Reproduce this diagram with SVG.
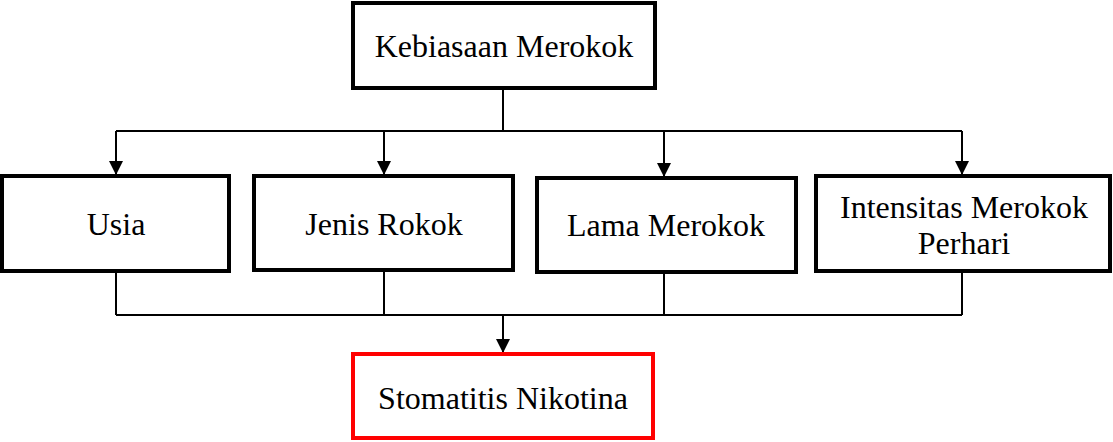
<svg xmlns="http://www.w3.org/2000/svg" width="1113" height="442" viewBox="0 0 1113 442">
<defs>
<marker id="ah" markerUnits="userSpaceOnUse" markerWidth="14" markerHeight="15" refX="14" refY="7" orient="auto" viewBox="0 0 14 14">
<path d="M0,0 L14,7 L0,14 Z" fill="#000"/>
</marker>
<style>
.box{fill:#fff;stroke:#000;stroke-width:4}
.red{fill:#fff;stroke:#ff0000;stroke-width:4}
.t{font-family:"Liberation Serif","Times New Roman",serif;font-size:32px;fill:#000;text-anchor:middle}
.c{fill:none;stroke:#000;stroke-width:2}
</style>
</defs>
<rect width="1113" height="442" fill="#fff"/>
<g id="connectors">
<path class="c" d="M503,88 V131 M116,131 H962"/>
<path class="c" d="M116,131 V175" marker-end="url(#ah)"/>
<path class="c" d="M384,131 V175" marker-end="url(#ah)"/>
<path class="c" d="M664,131 V177" marker-end="url(#ah)"/>
<path class="c" d="M962,131 V175" marker-end="url(#ah)"/>
<path class="c" d="M116,271 V315 M384,270 V315 M664,272 V315 M962,271 V315 M116,315 H962"/>
<path class="c" d="M503,315 V353" marker-end="url(#ah)"/>
</g>
<g id="kebiasaan">
<rect class="box" x="353" y="3" width="302" height="85"/>
<text class="t" x="504" y="57">Kebiasaan Merokok</text>
</g>
<g id="usia">
<rect class="box" x="2" y="176" width="227" height="95"/>
<text class="t" x="116" y="235">Usia</text>
</g>
<g id="jenis">
<rect class="box" x="254" y="176" width="259" height="94"/>
<text class="t" x="384" y="235">Jenis Rokok</text>
</g>
<g id="lama">
<rect class="box" x="537" y="178" width="259" height="94"/>
<text class="t" x="666" y="236">Lama Merokok</text>
</g>
<g id="intensitas">
<rect class="box" x="816" y="176" width="294" height="95"/>
<text class="t" x="964" y="218">Intensitas Merokok</text>
<text class="t" x="964" y="254">Perhari</text>
</g>
<g id="stomatitis">
<rect class="red" x="353" y="354" width="300" height="84"/>
<text class="t" x="503" y="409">Stomatitis Nikotina</text>
</g>
</svg>
